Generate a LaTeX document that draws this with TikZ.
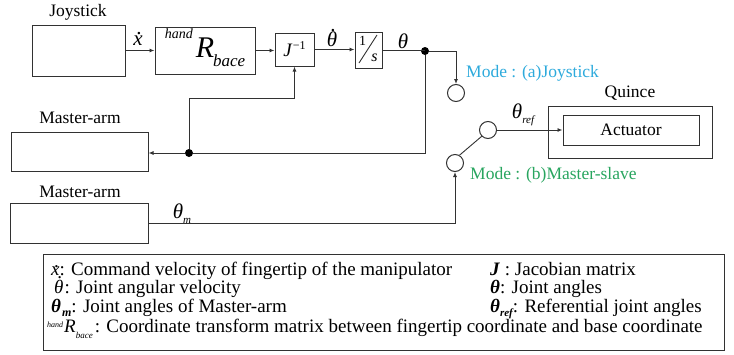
\documentclass[tikz,border=0pt]{standalone}
\usepackage{fontspec}
\setmainfont{Liberation Serif}
\usetikzlibrary{arrows.meta}
\definecolor{lc}{RGB}{50,50,50}
\definecolor{modea}{RGB}{45,170,220}
\definecolor{modeb}{RGB}{40,165,95}
% #1 glyph, #2 raise of the dot, #3 right shift of the dot
\newcommand{\dotover}[3]{\leavevmode\setbox0\hbox{#1}\rlap{\hbox to\wd0{\kern#3\hss\raisebox{#2}{\upshape .}\hss}}\box0}
\newcommand{\fs}[1]{\fontsize{#1}{#1}\selectfont}
\begin{document}
\begin{tikzpicture}[x=1pt,y=-1pt,
  blk/.style={draw=lc, line width=1pt, inner sep=0pt},
  wire/.style={draw=lc, line width=0.9pt},
  arr/.style={wire, -{Latex[length=5pt,width=4pt]}},
  txt/.style={inner sep=0pt, font=\fs{17.5}},
  lt/.style={inner sep=0pt, anchor=base west, font=\fs{19}},
  sw/.style={circle, draw=lc, line width=1pt, minimum size=17pt, inner sep=0pt},
  dotn/.style={circle, fill=black, minimum size=8pt, inner sep=0pt}]
\useasboundingbox (0,0) rectangle (734,354);
% top chain
\node[txt] (joyl) at (78,12) {Joystick};
\node[blk, minimum width=93pt, minimum height=51pt] (joy) at (78.5,50.5) {};
\node[blk, minimum width=100pt, minimum height=47pt] (hr) at (205,50.5) {};
\node[anchor=base, inner sep=0pt] (hrt) at (205,57) {\raisebox{19pt}{\fs{14}\itshape hand}\kern3pt{\fs{30}\itshape R}\kern-1pt\raisebox{-9pt}{\fs{17}\itshape bace}};
\node[blk, minimum width=39pt, minimum height=33pt] (jinv) at (294.5,49.5) {\fs{19}\itshape J\kern1pt\raisebox{7pt}{\fs{12}\upshape −1}};
\node[blk, minimum width=27pt, minimum height=36pt] (integ) at (368.5,50) {};
\node[inner sep=0pt] (one) at (362.5,41) {\fs{14}1};
\node[inner sep=0pt] (ess) at (374.5,58) {\fs{16}\itshape s};
\draw[line width=0.9pt, lc] (359,63) -- (377,35);
\node[inner sep=0pt] (xdl) at (138,39) {\fs{21}\dotover{\itshape x}{0.5em}{2pt}};
\node[inner sep=0pt] (thdl) at (332,38) {\fs{21}\dotover{\itshape θ}{0.72em}{2pt}};
\node[inner sep=0pt] (thl) at (403,41) {\fs{21}\itshape θ};
\node[dotn] (d1) at (425,51) {};
\draw[arr] (joy.east) -- (joy.east -| hr.west);
\draw[arr] (hr.east) -- (hr.east -| jinv.west);
\draw[arr] (jinv.east) -- (jinv.east -| integ.west);
\draw[wire] (integ.east) -- (integ.east -| d1.center);
% switch a
\node[sw] (swa) at (456,93) {};
\coordinate (c1) at (456,51);
\draw[arr] (d1) -- (c1) -- (swa.north);
\node[txt, anchor=west, text=modea] (ma) at (466,73) {Mode : (a)Joystick};
% master arm 1 and feedback
\node[txt] (m1l) at (80,118) {Master-arm};
\node[blk, minimum width=137pt, minimum height=39pt] (m1) at (79.5,151.5) {};
\node[dotn] (d2) at (189,153) {};
\draw[wire] (d1) |- (d2);
\draw[arr] (d2) -- (d2 -| m1.east);
\coordinate (k1) at (294.5,98);
\draw[arr] (d2) |- (k1) -- (jinv.south);
% master arm 2
\node[txt] (m2l) at (80,192) {Master-arm};
\node[blk, minimum width=138pt, minimum height=40pt] (m2) at (79,223) {};
\node[inner sep=0pt] (thm) at (182,214) {\fs{21}\itshape θ\raisebox{-5pt}{\fs{11}m}};
\node[sw] (swb) at (455,163) {};
\draw[arr] (m2.east) -| (swb.south);
\node[txt, anchor=west, text=modeb] (mb) at (470,175) {Mode : (b)Master-slave};
% switch output and Quince
\node[sw] (swc) at (488,130) {};
\draw[wire] (swb.60) -- (swc.225);
\node[txt] (ql) at (630,93) {Quince};
\node[blk, minimum width=164pt, minimum height=52pt] (quince) at (630,132) {};
\node[blk, minimum width=136pt, minimum height=30pt, font=\fs{17.5}] (act) at (631,130) {Actuator};
\draw[arr] (swc.east) -- (swc.east -| act.west);
\node[inner sep=0pt] (thr) at (523,115) {\fs{21}\itshape θ\raisebox{-5pt}{\fs{11}ref}};
% legend
\node[draw=lc, line width=1pt, minimum width=681pt, minimum height=96pt, inner sep=0pt] (leg) at (383.5,302) {};
\node[lt] (l1a) at (51,275) {\dotover{\itshape x}{0.42em}{2pt}: Command velocity of fingertip of the manipulator};
\node[lt] (l1b) at (490,275) {\textbf{\textit{J}} : Jacobian matrix};
\node[lt] (l2a) at (54,293) {\dotover{\itshape θ}{0.74em}{2pt}\kern1pt: Joint angular velocity};
\node[lt] (l2b) at (490,293) {\textbf{\textit{θ}}: Joint angles};
\node[lt] (l3a) at (51,312) {\textbf{\textit{θ}}\kern1pt\raisebox{-4pt}{\fs{12}\bfseries\itshape m}: Joint angles of Master-arm};
\node[lt] (l3b) at (490,312) {\textbf{\textit{θ}}\raisebox{-4pt}{\fs{11}\bfseries\itshape ref}: Referential joint angles};
\node[lt] (l4) at (47,332) {\raisebox{5pt}{\fs{8}\itshape hand}\kern1pt{\itshape R}\raisebox{-6pt}{\fs{9}\itshape bace}\kern2pt: Coordinate transform matrix between fingertip coordinate and base coordinate};
\end{tikzpicture}
\end{document}
